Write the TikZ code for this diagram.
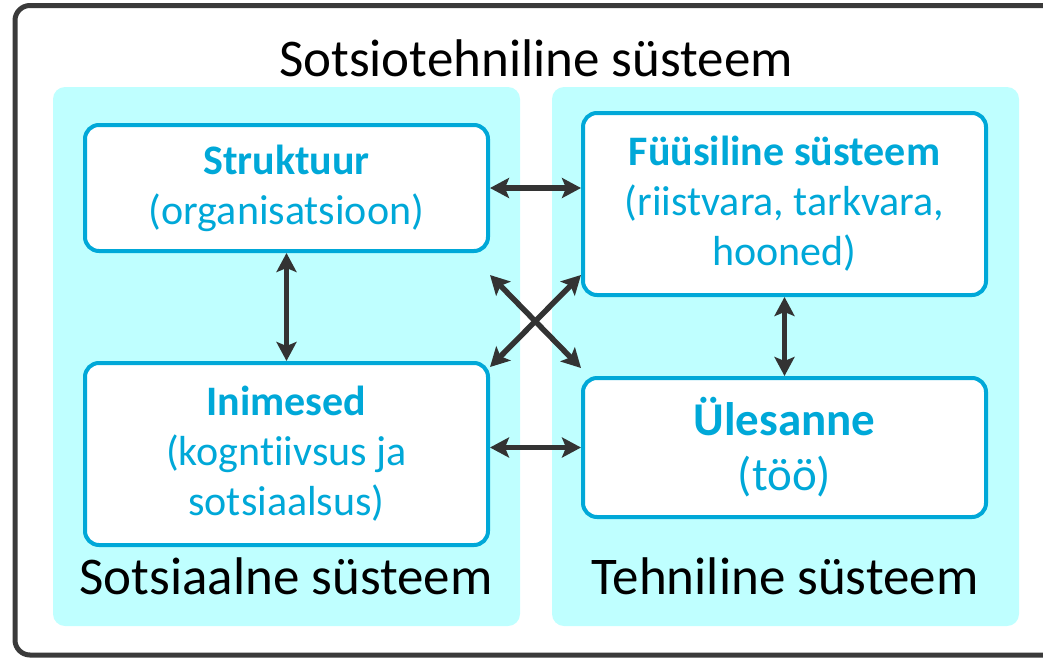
\documentclass[tikz,border=0pt]{standalone}
\usepackage{fontspec}
\setmainfont{Carlito}[RawFeature={-liga;-clig;-calt;-dlig}]
\usetikzlibrary{arrows.meta,calc}
\definecolor{panelcyan}{RGB}{191,255,255}
\definecolor{boxblue}{RGB}{0,168,216}
\definecolor{framegray}{RGB}{58,58,58}
\definecolor{arrowgray}{RGB}{51,51,51}
\begin{document}
\begin{tikzpicture}[x=1pt,y=-1pt,
  panel/.style={fill=panelcyan, rounded corners=12pt},
  sysbox/.style={draw=boxblue, line width=4pt, fill=white, rounded corners=14pt, align=center, text=boxblue, font=\fontsize{42}{50}\selectfont, inner sep=0pt, minimum width=403pt},
  biglabel/.style={font=\fontsize{53}{60}\selectfont, text=black, anchor=base},
  link/.style={draw=arrowgray, line width=5.5pt, {Stealth[length=19pt,width=20pt,inset=4pt]}-{Stealth[length=19pt,width=20pt,inset=4pt]}}
]
\useasboundingbox (0,0) rectangle (1043,659);
\clip (0,0) rectangle (1043,659);
% outer frame
\draw[draw=framegray, line width=5pt, rounded corners=15pt] (15,5.5) rectangle (1075,655);
\node[biglabel] (title) at (536,76) {Sotsiotehniline süsteem};
% panels
\path[panel] (53,87) rectangle (520,626);
\path[panel] (552,87) rectangle (1019,626);
% boxes
\node[sysbox, minimum height=126pt] (s) at (286.5,188) {\textbf{Struktuur}\\(organisatsioon)};
\node[sysbox, minimum height=182pt] (i) at (286.5,454) {\textbf{Inimesed}\\(kognt\kern0pt iivsus ja\\sotsiaalsus)};
\node[sysbox, minimum height=182pt] (f) at (784.5,204) {\textbf{Füüsiline süsteem}\\(riistvara, tarkvara,\\hooned)};
\node[sysbox, minimum height=139pt, font=\fontsize{47}{55}\selectfont] (u) at (784.5,447.5) {\textbf{Ülesanne}\\(töö)};
% panel labels
\node[biglabel] (sl) at (286,594) {Sotsiaalne süsteem};
\node[biglabel] (tl) at (785,594) {Tehniline süsteem};
% connectors
\coordinate (d1) at (490,275);
\coordinate (d2) at (581,368);
\coordinate (d3) at (581,275);
\coordinate (d4) at (490,367);
\draw[link] (s.east) -- (s.east -| f.west);
\draw[link] (s.south) -- (i.north);
\draw[link] (f.south) -- (u.north);
\draw[link] (u.west -| i.east) -- (u.west);
\draw[link] (d1) -- (d2);
\draw[link] (d3) -- (d4);
\end{tikzpicture}
\end{document}
